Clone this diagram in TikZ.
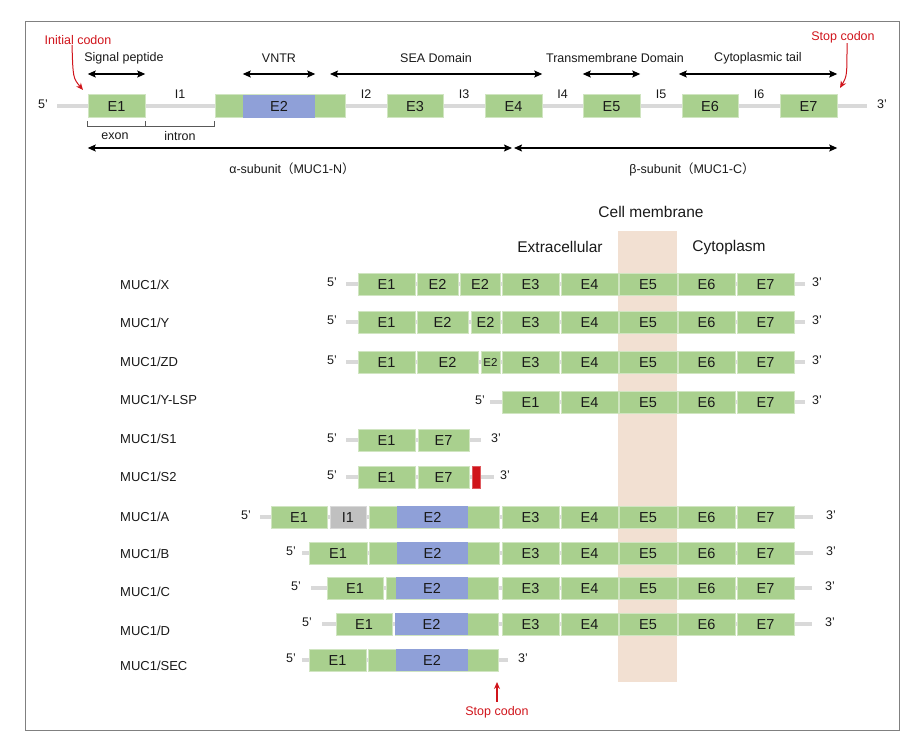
\documentclass[tikz,border=0pt]{standalone}
\usepackage{fontspec}
\setmainfont{Liberation Sans}
\newfontfamily\cjk{Noto Sans CJK SC}
\usepackage{tikz}
\usetikzlibrary{arrows.meta, positioning, calc}
\definecolor{exgreen}{HTML}{A9D08E}
\definecolor{vntrblue}{HTML}{8FA0D8}
\definecolor{membr}{HTML}{F2E0D2}
\definecolor{intgray}{HTML}{C0C0C0}
\definecolor{bbgray}{HTML}{D9D9D9}
\definecolor{codonred}{HTML}{D0141B}
\definecolor{framegray}{HTML}{808080}

\tikzset{
  exon/.style={fill=exgreen, draw=exgreen!55!white, line width=0.5pt, minimum height=22pt,
    inner sep=0pt, text height=10.4pt, text depth=0pt, font=\fontsize{14.5}{16}\selectfont},
  texon/.style={exon, minimum height=23pt},
  vntr/.style={exon, fill=vntrblue, draw=none},
  tvntr/.style={vntr, minimum height=23pt},
  smallex/.style={exon, text height=8.3pt, font=\fontsize{11.5}{12}\selectfont},
  intbox/.style={exon, fill=intgray, draw=intgray!60!white},
  stopbox/.style={exon, fill=codonred, draw=codonred!70!white},
  backbone/.style={bbgray, line width=3.5pt},
  prime/.style={inner sep=0pt, font=\fontsize{12.5}{14}\selectfont},
  rowlab/.style={anchor=west, inner sep=0pt, font=\fontsize{13}{15}\selectfont},
  domlab/.style={inner sep=0pt, font=\fontsize{12.5}{14}\selectfont},
  bigl/.style={inner sep=0pt, font=\fontsize{15.5}{17}\selectfont},
  span/.style={{Stealth[length=8pt,width=7pt,inset=1.5pt]}-{Stealth[length=8pt,width=7pt,inset=1.5pt]}, line width=1.3pt},
  bracket/.style={draw=black!65, line width=0.8pt},
  codon/.style={inner sep=0pt, text=codonred, font=\fontsize{12.5}{14}\selectfont},
  codonarrow/.style={-{Stealth[length=7pt,width=6pt]}, codonred, line width=1pt}
}

% box from x1 to x2 on row y
\newcommand\exbox[6][exon]{%
  \node[#1, minimum width={(#4-#3)*1pt}] (#2) at ({(#3+#4)/2},#5) {#6};}

\begin{document}
\begin{tikzpicture}[x=1pt, y=-1pt, font=\fontsize{12.5}{14}\selectfont, text=black!90]
\useasboundingbox (0,0) rectangle (921,740);
\draw[framegray, line width=0.8pt] (25,21) rectangle (899,730);

% Membrane band
\fill[membr] (618,231) rectangle (677,682);
\node[bigl] (cellm) at (651,212) {Cell membrane};
\node[bigl] (extra) at (560,247) {Extracellular};
\node[bigl] (cyto) at (729,247) {Cytoplasm};

% Backbones with 5' and 3' ends
\foreach \r/\y/\a/\b/\p/\q in {t/106/57/867/43/882, x/284/346/805/332/817,
    y/322/346/805/332/817, zd/362/346/805/332/817, lsp/402/490/805/480/817,
    sa/440/346/481/332/496, sb/477/346/494/332/505, a/517/260/813/246/831,
    b/553/302/813/291/831, c/588/311/812/296/830, d/624/322/812/307/830,
    sec/660/302/508/291/523}{
  \coordinate (\r5) at (\a,\y);
  \coordinate (\r3) at (\b,\y);
  \draw[backbone] (\r5) -- (\r3);
  \node[prime] (\r p5) at (\p,\y-2) {5’};
  \node[prime] (\r p3) at (\q,\y-2) {3’};
}

% Gene structure
\exbox[texon]{te1}{88}{145}{106}{E1}
\exbox[texon]{te2}{215}{345}{106}{}
\exbox[tvntr]{tv}{243}{315}{106}{E2}
\exbox[texon]{te3}{387}{443}{106}{E3}
\exbox[texon]{te4}{485}{542}{106}{E4}
\exbox[texon]{te5}{583}{640}{106}{E5}
\exbox[texon]{te6}{682}{738}{106}{E6}
\exbox[texon]{te7}{780}{837}{106}{E7}
\foreach \i/\m/\n in {1/te1/te2, 2/te2/te3, 3/te3/te4, 4/te4/te5, 5/te5/te6, 6/te6/te7}{
  \node[domlab] (i\i) at ($(\m.east)!.5!(\n.west) + (0,-12)$) {I\i};
}

% Domains
\coordinate (dom) at (0,74);
\coordinate (sea1) at (330,74);
\draw[span] (te1.west |- dom) -- (te1.east |- dom);
\draw[span] (tv.west |- dom) -- (tv.east |- dom);
\draw[span] (sea1) -- (te4.east |- dom);
\draw[span] (te5.west |- dom) -- (te5.east |- dom);
\draw[span] ([xshift=-3pt]te6.west |- dom) -- (te7.east |- dom);
\node[domlab] (sigp) at (124,58) {Signal peptide};
\node[domlab] (vntrl) at (279,58) {VNTR};
\node[domlab] (seal) at (436,58) {SEA Domain};
\node[domlab] (tml) at (615,58) {Transmembrane Domain};
\node[domlab] (ctl) at (758,58) {Cytoplasmic tail};

% exon / intron bracket
\coordinate (brk) at (0,126);
\draw[bracket] (te1.west |- brk) ++(0,-5) -- ++(0,5) -- (te2.west |- brk) -- ++(0,-5);
\draw[bracket] (te1.east |- brk) -- ++(0,-5);
\node[domlab] (exl) at (115,136) {exon};
\node[domlab] (inl) at (180,136) {intron};

% Subunits
\coordinate (sub) at (0,148);
\coordinate (cleave) at (513,148);
\draw[span] (te1.west |- sub) -- ([xshift=-1pt]cleave);
\draw[span] ([xshift=1pt]cleave) -- (te7.east |- sub);
\node[domlab] (alpha) at (292,169) {α-subunit{\cjk（}MUC1-N{\cjk）}};
\node[domlab] (beta) at (692,169) {β-subunit{\cjk（}MUC1-C{\cjk）}};

% Codons
\node[codon] (initc) at (78,40) {Initial codon};
\coordinate (initp) at (83,90);
\draw[codonarrow] ([xshift=-6pt]initc.south) .. controls (73,78) .. (initp);
\node[codon] (stopt) at (843,37) {Stop codon};
\coordinate (stopp) at (840,88);
\draw[codonarrow] ([xshift=4pt]stopt.south) .. controls (847,76) .. (stopp);

% Isoforms
\foreach \r/\t/\y in {lx/X/285, ly/Y/323, lzd/ZD/362, llsp/Y-LSP/400, lsa/S1/439,
    lsb/S2/477, la/A/517, lb/B/554, lc/C/592, ld/D/631, lsec/SEC/666}{
  \node[rowlab] (\r) at (120,\y) {MUC1/\t};
}
\foreach \r/\y in {x/284, y/322, zd/362, a/517, b/553, c/588, d/624}{
  \foreach \i/\a/\b in {3/502/559, 4/561/618, 5/619/677, 6/678/735, 7/737/794}{
    \exbox{\r e\i}{\a}{\b}{\y}{E\i}
  }
}
% X, Y, ZD
\exbox{xe1}{358}{415}{284}{E1}
\exbox{xe2}{417}{458}{284}{E2}
\exbox{xe2b}{460}{500}{284}{E2}
\exbox{ye1}{358}{415}{322}{E1}
\exbox{ye2}{417}{468}{322}{E2}
\exbox{ye2b}{471}{500}{322}{E2}
\exbox{zde1}{358}{415}{362}{E1}
\exbox{zde2}{417}{478}{362}{E2}
\exbox[smallex]{zde2b}{481}{500}{362}{E2}
% Y-LSP
\exbox{lspe1}{502}{559}{402}{E1}
\foreach \i/\a/\b in {4/561/618, 5/619/677, 6/678/735, 7/737/794}{
  \exbox{lspe\i}{\a}{\b}{402}{E\i}
}
% S1, S2
\exbox{sae1}{358}{415}{440}{E1}
\exbox{sae7}{418}{469}{440}{E7}
\exbox{sbe1}{358}{415}{477}{E1}
\exbox{sbe7}{418}{469}{477}{E7}
\exbox[stopbox]{sbred}{472}{480}{477}{}
% A to D, SEC
\exbox{ae1}{271}{327}{517}{E1}
\exbox[intbox]{ai1}{330}{366}{517}{I1}
\exbox{ae2}{369}{499}{517}{}
\exbox[vntr]{av}{397}{468}{517}{E2}
\exbox{be1}{309}{367}{553}{E1}
\exbox{be2}{369}{499}{553}{}
\exbox[vntr]{bv}{397}{468}{553}{E2}
\exbox{ce1}{327}{383}{588}{E1}
\exbox{ce2}{386}{498}{588}{}
\exbox[vntr]{cv}{396}{468}{588}{E2}
\exbox{de1}{336}{392}{624}{E1}
\exbox{de2}{395}{498}{624}{}
\exbox[vntr]{dv}{395}{468}{624}{E2}
\exbox{sece1}{309}{366}{660}{E1}
\exbox{sece2}{368}{498}{660}{}
\exbox[vntr]{secv}{396}{468}{660}{E2}

\node[codon] (stopb) at (497,712) {Stop codon};
\coordinate (stopq) at (497,682);
\draw[codonarrow, line width=1.4pt] (stopb.north) ++(0,-4) -- (stopq);
\end{tikzpicture}
\end{document}
